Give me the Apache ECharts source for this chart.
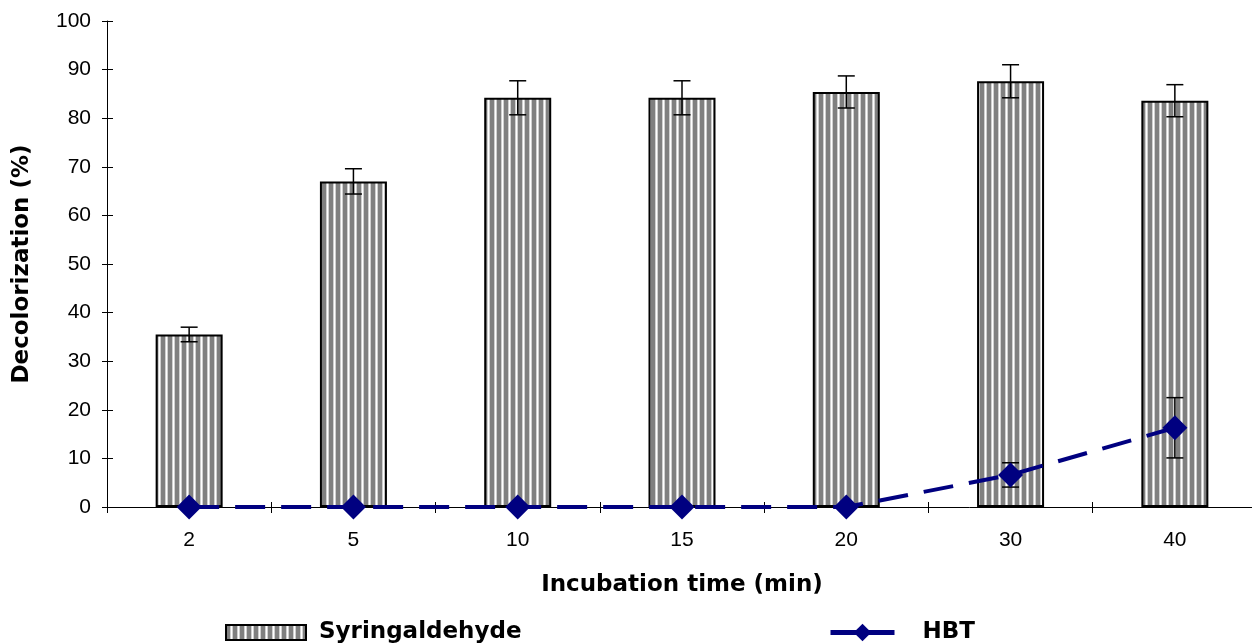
<!DOCTYPE html>
<html><head><meta charset="utf-8">
<script src="https://cdn.jsdelivr.net/npm/echarts@6/dist/echarts.min.js"></script>
<style>html,body{margin:0;padding:0;background:#fff;overflow:hidden}#c{width:1258px;height:644px}</style>
</head><body><div id="c"></div>
<script>
const categories = ['2','5','10','15','20','30','40'];
const syringaldehyde = [35.5, 67.0, 84.2, 84.2, 85.4, 87.6, 83.6];
const syringaldehydeErr = [1.5, 2.6, 3.5, 3.5, 3.3, 3.4, 3.3];
const hbt = [0, 0, 0, 0, 0, 6.6, 16.3];
const hbtErr = [0, 0, 0, 0, 0, 2.5, 6.2];
const yTicks = [0,10,20,30,40,50,60,70,80,90,100];

const pc = document.createElement('canvas');
pc.width = 7; pc.height = 10;
const g = pc.getContext('2d');
g.fillStyle = '#808080'; g.fillRect(0,0,7,10);
g.fillStyle = '#d0d0d0'; g.fillRect(4,0,3,10);
g.fillStyle = '#ffffff'; g.fillRect(5,0,1,10);
const pattern = {image: pc, repeat: 'repeat'};

const chart = echarts.init(document.getElementById('c'));
const FONT = '"Liberation Sans", Arial, sans-serif';
const BFONT = '"DejaVu Sans", sans-serif';

function errSeries(name, vals, errs, z) {
  return {
    type: 'custom', name: name + '_err', z: z, silent: true,
    data: vals.map((v,i)=>[i, v-errs[i], v+errs[i]]).filter((d,i)=>errs[i]>0),
    renderItem: function(params, api){
      const lo = api.coord([api.value(0), api.value(1)]);
      const hi = api.coord([api.value(0), api.value(2)]);
      const hw = 8.5;
      const st = {stroke:'#000', lineWidth:1.5};
      return {type:'group', children:[
        {type:'line', shape:{x1:lo[0],y1:lo[1],x2:hi[0],y2:hi[1]}, style:st},
        {type:'line', shape:{x1:lo[0]-hw,y1:lo[1],x2:lo[0]+hw,y2:lo[1]}, style:st},
        {type:'line', shape:{x1:hi[0]-hw,y1:hi[1],x2:hi[0]+hw,y2:hi[1]}, style:st}
      ]};
    }
  };
}

chart.setOption({
  animation: false,
  backgroundColor: '#fff',
  grid: {left: 107, top: 21, width: 1150, bottom: 137, containLabel: false},
  legend: [
    {left: 225, top: 621, padding: 0, itemWidth: 80, itemHeight: 15,
     data: [{name:'Syringaldehyde', icon:'rect'}],
     textStyle:{fontFamily: BFONT, fontWeight:'bold', fontSize: 23, color:'#000', padding:[0,0,0,8]}},
    {left: 828, top: 621, padding: 0, itemWidth: 64, itemHeight: 22,
     data: [{name:'HBT', lineStyle:{type:'solid', width:5}}],
     textStyle:{fontFamily: BFONT, fontWeight:'bold', fontSize: 23, color:'#000', padding:[0,0,0,23]}}
  ],
  xAxis: [
    {type:'category', data: categories, position:'bottom',
     axisLine:{lineStyle:{color:'#000', width:1}},
     axisTick:{show:true, length:6, lineStyle:{color:'#000'}},
     axisLabel:{color:'#000', fontFamily: FONT, fontSize: 21, margin: 23},
     name: 'Incubation time (min)', nameLocation:'middle', nameGap: 67,
     nameTextStyle:{fontFamily: BFONT, fontWeight:'bold', fontSize: 23, color:'#000'}},
    {type:'category', data: categories, position:'bottom',
     axisLine:{show:false}, axisLabel:{show:false},
     axisTick:{show:true, inside:true, length:5, lineStyle:{color:'#000'}}}
  ],
  yAxis: [
    {type:'value', min:0, max:100, interval:10, position:'left',
     axisLine:{show:true, lineStyle:{color:'#000', width:1}},
     axisTick:{show:true, length:5, lineStyle:{color:'#000'}},
     splitLine:{show:false},
     axisLabel:{color:'#000', fontFamily: FONT, fontSize: 21, margin: 16,
       formatter: v => yTicks.includes(v) ? String(v) : ''},
     name: 'Decolorization (%)', nameLocation:'middle', nameGap: 73,
     nameTextStyle:{fontFamily: BFONT, fontWeight:'bold', fontSize: 23, color:'#000'}},
    {type:'value', min:0, max:100, interval:10, position:'left',
     axisLine:{show:false}, axisLabel:{show:false}, splitLine:{show:false},
     axisTick:{show:true, inside:true, length:6, lineStyle:{color:'#000'}}}
  ],
  series: [
    {name:'Syringaldehyde', type:'bar', data: syringaldehyde, barWidth: 67, z: 2,
     itemStyle:{color: pattern, borderColor:'#000', borderWidth: 2}},
    errSeries('Syringaldehyde', syringaldehyde, syringaldehydeErr, 3),
    errSeries('HBT', hbt, hbtErr, 3),
    {name:'HBT', type:'line', data: hbt, z: 5, symbol:'diamond', symbolSize: 25,
     lineStyle:{color:'#000080', width:4, type:[30,16]},
     itemStyle:{color:'#000080'}}
  ]
});
</script></body></html>
